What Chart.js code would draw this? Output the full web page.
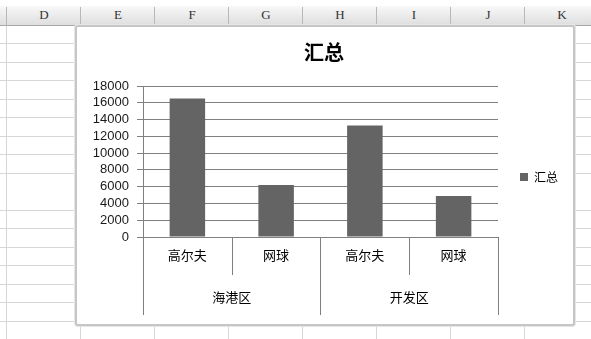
<!DOCTYPE html>
<html>
<head>
<meta charset="utf-8">
<script src="https://cdn.jsdelivr.net/npm/chart.js@4"></script>
<style>
  html, body { margin: 0; padding: 0; }
  body { width: 591px; height: 339px; overflow: hidden; background: #fff; position: relative; }
  .sheet {
    position: absolute; left: 0; top: 26px; width: 591px; height: 313px;
    background-image:
      repeating-linear-gradient(to bottom, transparent 0, transparent 17.5px, #d6d6d6 17.5px, #d6d6d6 18.5px),
      repeating-linear-gradient(to right, #d6d6d6 0, #d6d6d6 1px, transparent 1px, transparent 74px);
    background-position: 0 0, 6px 0;
  }
  .hdr {
    position: absolute; left: 0; top: 6px; width: 591px; height: 19px;
    background: linear-gradient(#f8f8f8, #dedede);
    border-bottom: 1px solid #a8a8a8;
  }
  .hdr span {
    position: absolute; top: 1px; width: 74px; text-align: center;
    font: 13px 'Liberation Serif', serif; color: #333;
    border-left: 1px solid #b8b8b8; height: 18px;
  }
  .frame {
    position: absolute; left: 75px; top: 25px; width: 496px; height: 297px;
    background: #fff; border: 2px solid #c6c6c6; border-radius: 3px;
    box-shadow: 0 0 0 1px #e6e6e6;
  }
  .wrap { position: absolute; left: 3px; top: 3px; width: 493px; height: 294px; }
</style>
</head>
<body>
<div class="sheet"></div>
<div class="hdr" id="hdr"></div>
<div class="frame"><div class="wrap"><canvas id="chart" width="493" height="294"></canvas></div></div>
<script>
// chart data
const columns = ['D', 'E', 'F', 'G', 'H', 'I', 'J', 'K'];
const groups = ['海港区', '开发区'];
const sports = ['高尔夫', '网球', '高尔夫', '网球'];
const totals = [16500, 6200, 13300, 4900];
const seriesName = '汇总';

// spreadsheet column header
const hdr = document.getElementById('hdr');
columns.forEach((c, i) => {
    const s = document.createElement('span');
    s.textContent = c;
    s.style.left = (6 + i * 74) + 'px';
    hdr.appendChild(s);
});

const cjk = "'Noto Sans CJK SC', sans-serif";
const lineColor = '#808080';

// draws the two-level category separators below the x axis
const groupLines = {
    id: 'groupLines',
    afterDraw(chart) {
        const x = chart.scales.x;
        const x2 = chart.scales.x2;
        const n = x.ticks.length;
        const step = x.width / n;
        const ctx = chart.ctx;
        ctx.save();
        ctx.strokeStyle = lineColor;
        ctx.lineWidth = 1;
        for (let i = 0; i <= n; i++) {
            const px = Math.round(x.left + i * step) + 0.5;
            const end = (i % 2 === 0) ? x2.bottom - 9 : x.bottom - 2;
            ctx.beginPath();
            ctx.moveTo(px, x.top);
            ctx.lineTo(px, end);
            ctx.stroke();
        }
        ctx.restore();
    }
};

new Chart(document.getElementById('chart'), {
    type: 'bar',
    data: {
        labels: sports,
        datasets: [{
            label: seriesName,
            data: totals,
            backgroundColor: '#646464',
            borderWidth: 0,
            categoryPercentage: 1,
            barPercentage: 0.4
        }]
    },
    options: {
        responsive: false,
        animation: false,
        layout: { padding: { right: 5 } },
        plugins: {
            title: {
                display: true,
                text: seriesName,
                color: '#000',
                font: { family: cjk, size: 20, weight: 'bold' },
                padding: { top: 10, bottom: 22 }
            },
            legend: {
                position: 'right',
                labels: {
                    boxWidth: 8,
                    boxHeight: 8,
                    padding: 22,
                    color: '#000',
                    font: { family: cjk, size: 12 }
                }
            },
            tooltip: { enabled: false }
        },
        scales: {
            y: {
                min: 0,
                max: 18000,
                ticks: {
                    stepSize: 2000,
                    autoSkip: false,
                    padding: 8,
                    color: '#1a1a1a',
                    font: { family: "'Liberation Sans', sans-serif", size: 13 },
                    callback: (v) => String(v)
                },
                grid: { color: lineColor, tickLength: 6 },
                border: { display: true, color: lineColor },
                afterFit(scale) { scale.width = 63; }
            },
            x: {
                weight: 0,
                ticks: {
                    padding: 2,
                    color: '#000',
                    font: { family: cjk, size: 13 }
                },
                grid: { display: false },
                border: { display: true, color: lineColor },
                afterFit(scale) { scale.height = 40; }
            },
            x2: {
                type: 'category',
                position: 'bottom',
                weight: 1,
                labels: groups,
                offset: true,
                ticks: {
                    padding: 4,
                    color: '#000',
                    font: { family: cjk, size: 13 }
                },
                grid: { display: false },
                border: { display: false },
                afterFit(scale) { scale.height = 47; }
            }
        }
    },
    plugins: [groupLines]
});
</script>
</body>
</html>
